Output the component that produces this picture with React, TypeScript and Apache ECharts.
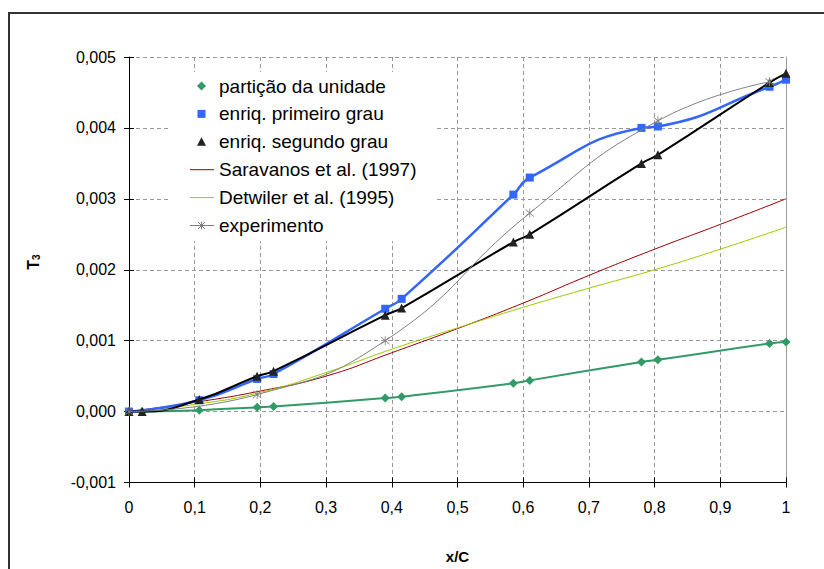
import React, { useEffect, useRef } from "react";
import * as echarts from "echarts";

// ---- Data ----
const xPoints = [0, 0.02, 0.107, 0.195, 0.22, 0.39, 0.415, 0.585, 0.61, 0.78, 0.805, 0.975, 1.0];
const particaoValues = [0, 0, 0.00002, 0.00006, 0.00007, 0.00019, 0.00021, 0.0004, 0.00044, 0.0007, 0.00073, 0.00096, 0.00098];
const segundoValues = [0, 0, 0.00017, 0.0005, 0.00057, 0.00136, 0.00146, 0.00239, 0.0025, 0.0035, 0.00362, 0.00464, 0.00477];

const primeiroX = [0, 0.107, 0.195, 0.22, 0.39, 0.415, 0.585, 0.61, 0.78, 0.805, 0.975, 1.0];
const primeiroValues = [0, 0.00016, 0.00046, 0.00053, 0.00145, 0.00159, 0.00306, 0.0033, 0.004, 0.00402, 0.00458, 0.00468];

const expX = [0, 0.195, 0.39, 0.61, 0.805, 0.975];
const expValues = [0, 0.00024, 0.001, 0.0028, 0.0041, 0.00465];

const refX = [0, 0.1, 0.2, 0.3, 0.4, 0.5, 0.6, 0.7, 0.8, 0.9, 1.0];
const saravanosValues = [0, 0.00013, 0.00029, 0.0005, 0.00083, 0.00117, 0.00153, 0.00192, 0.00229, 0.00264, 0.003];
const detwilerValues = [0, 0.0001, 0.00027, 0.00055, 0.00088, 0.00118, 0.00147, 0.00174, 0.002, 0.00229, 0.0026];

const legendLabels = [
  "partição da unidade",
  "enriq. primeiro grau",
  "enriq. segundo grau",
  "Saravanos et al. (1997)",
  "Detwiler et al. (1995)",
  "experimento",
];

const FONT = 'Arial, "Liberation Sans", sans-serif';
const C_GREEN = "#339966";
const C_BLUE = "#3366FF";
const C_BLACK = "#000000";
const C_RED = "#990000";
const C_YELLOW = "#99CC00";
const C_GRAY = "#808080";

const ASTERISK =
  "path://M-0.8 -10 L0.8 -10 L0.8 10 L-0.8 10 Z M-7.43 -8.57 L8.57 7.43 L7.43 8.57 L-8.57 -7.43 Z M-8.57 7.43 L7.43 -8.57 L8.57 -7.43 L-7.43 8.57 Z";

const pairs = (xs: number[], ys: number[]) => xs.map((x, i) => [x, ys[i]]);

const LZ = 100;

function legendGraphic() {
  const children: any[] = [];
  children.push({
    type: "rect",
    z: LZ,
    shape: { x: 169, y: 72, width: 268, height: 169 },
    style: { fill: "#ffffff", stroke: "none" },
  });
  const mx = 201.5;
  legendLabels.forEach((label, i) => {
    const cy = 86 + i * 27.9;
    if (i === 0) {
      children.push({
        type: "polygon",
        z: LZ + 1,
        shape: { points: [[mx, cy - 4.5], [mx + 4.5, cy], [mx, cy + 4.5], [mx - 4.5, cy]] },
        style: { fill: C_GREEN },
      });
    } else if (i === 1) {
      children.push({
        type: "rect",
        z: LZ + 1,
        shape: { x: mx - 4, y: cy - 4, width: 8, height: 8 },
        style: { fill: C_BLUE },
      });
    } else if (i === 2) {
      children.push({
        type: "polygon",
        z: LZ + 1,
        shape: { points: [[mx, cy - 4.5], [mx + 4.5, cy + 4], [mx - 4.5, cy + 4]] },
        style: { fill: "#222222" },
      });
    } else {
      const col = i === 3 ? C_RED : i === 4 ? C_YELLOW : C_GRAY;
      children.push({
        type: "line",
        z: LZ + 1,
        shape: { x1: 190, y1: cy, x2: 214, y2: cy },
        style: { stroke: col, lineWidth: 1 },
      });
      if (i === 5) {
        const arms = [
          [mx, cy - 4, mx, cy + 4],
          [mx - 3.5, cy - 3.5, mx + 3.5, cy + 3.5],
          [mx - 3.5, cy + 3.5, mx + 3.5, cy - 3.5],
        ];
        arms.forEach((a) =>
          children.push({
            type: "line",
            z: LZ + 1,
            shape: { x1: a[0], y1: a[1], x2: a[2], y2: a[3] },
            style: { stroke: C_GRAY, lineWidth: 1 },
          })
        );
      }
    }
    children.push({
      type: "text",
      z: LZ + 1,
      x: 219,
      y: cy,
      style: {
        text: label,
        fill: "#000",
        font: `19px ${FONT}`,
        textAlign: "left",
        textVerticalAlign: "middle",
      },
    });
  });
  return { type: "group", z: LZ, children };
}

export default function App() {
  const ref = useRef<HTMLDivElement>(null);

  useEffect(() => {
    if (!ref.current) return;
    const chart = echarts.init(ref.current, undefined, { renderer: "svg" });

    const xLabel = (v: number) => {
      if (Math.abs(v) < 1e-9) return "0";
      if (Math.abs(v - 1) < 1e-9) return "1";
      return v.toFixed(1).replace(".", ",");
    };
    const yLabel = (v: number) => (Math.abs(v) < 1e-12 ? 0 : v).toFixed(3).replace(".", ",");

    const labelStyle = { color: "#000", fontSize: 16, fontFamily: FONT };
    const splitStyle = { lineStyle: { color: "#9a9a9a", type: [4, 3] as any, width: 1 } };

    const option: any = {
      animation: false,
      backgroundColor: "#ffffff",
      grid: { left: 129, right: 38, top: 57, bottom: 86, containLabel: false },
      xAxis: [
        {
          type: "value",
          min: 0,
          max: 1,
          interval: 0.1,
          position: "bottom",
          axisLine: { onZero: false, lineStyle: { color: "#000", width: 1 } },
          axisTick: { show: true, length: 5, lineStyle: { color: "#000" } },
          axisLabel: { ...labelStyle, margin: 17, formatter: xLabel },
          splitLine: { show: true, ...splitStyle },
          name: "x/C",
          nameLocation: "middle",
          nameGap: 74,
          nameTextStyle: {
            fontWeight: "bold",
            fontSize: 15,
            color: "#000",
            fontFamily: FONT,
            verticalAlign: "middle",
          },
        },
        {
          type: "value",
          min: 0,
          max: 1,
          interval: 0.1,
          position: "bottom",
          axisLine: { show: false, onZero: false },
          axisTick: { show: true, inside: true, length: 5, lineStyle: { color: "#000" } },
          axisLabel: { show: false },
          splitLine: { show: false },
        },
      ],
      yAxis: [
        {
          type: "value",
          min: -0.001,
          max: 0.005,
          interval: 0.001,
          position: "left",
          axisLine: { show: true, onZero: false, lineStyle: { color: "#000", width: 1 } },
          axisTick: { show: true, length: 5, lineStyle: { color: "#000" } },
          axisLabel: { ...labelStyle, margin: 13, formatter: yLabel },
          splitLine: { show: true, ...splitStyle },
        },
        {
          type: "value",
          min: -0.001,
          max: 0.005,
          interval: 0.001,
          position: "left",
          axisLine: { show: false, onZero: false },
          axisTick: { show: true, inside: true, length: 5, lineStyle: { color: "#000" } },
          axisLabel: { show: false },
          splitLine: { show: false },
        },
        {
          type: "value",
          min: -0.001,
          max: 0.005,
          interval: 0.001,
          position: "right",
          axisLine: { show: true, onZero: false, lineStyle: { color: "#999", width: 1 } },
          axisTick: { show: false },
          axisLabel: { show: false },
          splitLine: { show: false },
        },
      ],
      graphic: [
        {
          type: "rect",
          z: LZ,
          shape: { x: 9, y: 13, width: 830, height: 600 },
          style: { fill: "none", stroke: "#333333", lineWidth: 2 },
        },
        {
          type: "text",
          z: LZ,
          x: 33,
          y: 262,
          rotation: Math.PI / 2,
          style: {
            text: "{t|T}{s|3}",
            textAlign: "center",
            textVerticalAlign: "middle",
            rich: {
              t: { fontSize: 16, fontWeight: "bold", fontFamily: FONT, fill: "#000", color: "#000" },
              s: {
                fontSize: 10,
                fontWeight: "bold",
                fontFamily: FONT,
                fill: "#000",
                color: "#000",
                verticalAlign: "bottom",
                padding: [6, 0, 0, 0],
              },
            },
          },
        },
        legendGraphic(),
      ],
      series: [
        {
          name: legendLabels[3],
          type: "line",
          smooth: true,
          symbol: "none",
          data: pairs(refX, saravanosValues),
          lineStyle: { color: C_RED, width: 1 },
          itemStyle: { color: C_RED },
          z: 2,
        },
        {
          name: legendLabels[4],
          type: "line",
          smooth: true,
          symbol: "none",
          data: pairs(refX, detwilerValues),
          lineStyle: { color: C_YELLOW, width: 1 },
          itemStyle: { color: C_YELLOW },
          z: 2,
        },
        {
          name: legendLabels[0],
          type: "line",
          smooth: true,
          symbol: "diamond",
          symbolSize: 9,
          data: pairs(xPoints, particaoValues),
          lineStyle: { color: C_GREEN, width: 2 },
          itemStyle: { color: C_GREEN },
          z: 3,
        },
        {
          name: legendLabels[1],
          type: "line",
          smooth: true,
          symbol: "rect",
          symbolSize: 8,
          data: pairs(primeiroX, primeiroValues),
          lineStyle: { color: C_BLUE, width: 2.5 },
          itemStyle: { color: C_BLUE },
          z: 4,
        },
        {
          name: legendLabels[2],
          type: "line",
          smooth: true,
          symbol: "triangle",
          symbolSize: 9,
          data: pairs(xPoints, segundoValues),
          lineStyle: { color: C_BLACK, width: 2 },
          itemStyle: { color: "#222222" },
          z: 5,
        },
        {
          name: legendLabels[5],
          type: "line",
          smooth: true,
          symbol: ASTERISK,
          symbolSize: 9,
          data: pairs(expX, expValues),
          lineStyle: { color: C_GRAY, width: 1 },
          itemStyle: { color: C_GRAY },
          z: 6,
        },
      ],
    };

    chart.setOption(option);
    return () => chart.dispose();
  }, []);

  return (
    <div
      ref={ref}
      style={{ position: "absolute", left: 0, top: 0, width: 824, height: 569, background: "#fff" }}
    />
  );
}
